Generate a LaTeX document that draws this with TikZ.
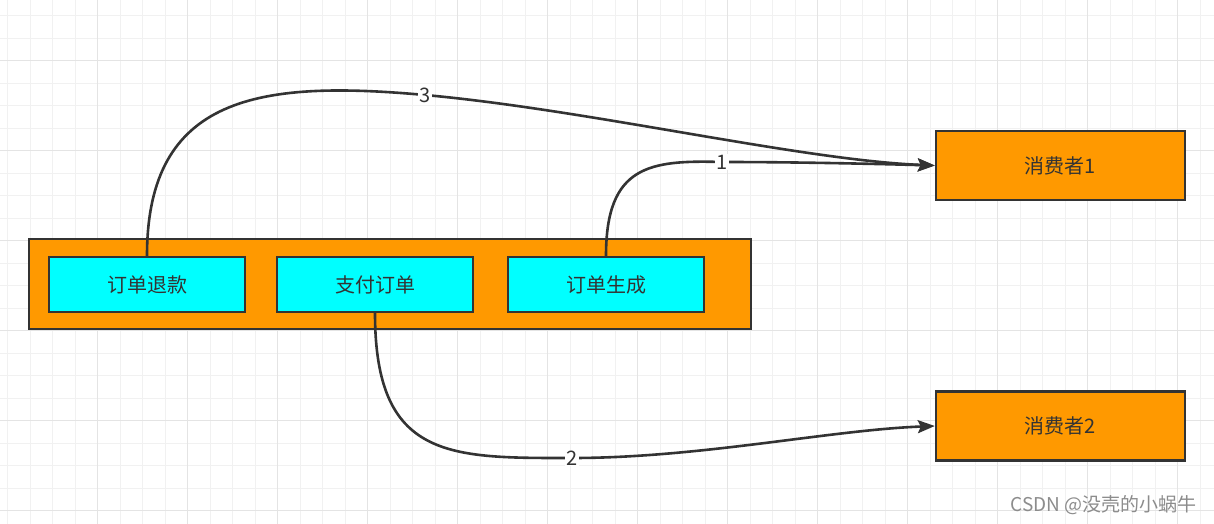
\documentclass[tikz,border=0pt]{standalone}
\usepackage{fontspec}
\setmainfont{Noto Sans CJK SC}
\usepackage{tikz}
\usetikzlibrary{arrows.meta,calc}
\definecolor{lineclr}{RGB}{51,51,51}
\definecolor{boxorange}{RGB}{255,153,0}
\definecolor{boxcyan}{RGB}{0,255,255}
\definecolor{gridminor}{RGB}{241,241,241}
\definecolor{gridmajor}{RGB}{228,228,228}

\begin{document}
\begin{tikzpicture}[x=1pt, y=-1pt,
  txt/.style={font=\fontsize{20}{22}\selectfont, text=lineclr},
  queuebox/.style={draw=lineclr, line width=2.4pt, fill=boxorange, minimum width=722pt, minimum height=90pt, inner sep=0pt},
  msgbox/.style={txt, draw=lineclr, line width=2.4pt, fill=boxcyan, minimum width=196pt, minimum height=55pt, inner sep=0pt},
  consbox/.style={txt, draw=lineclr, line width=2.4pt, fill=boxorange, minimum width=249pt, minimum height=69pt, inner sep=0pt},
  flow/.style={draw=lineclr, line width=2.6pt, -{Stealth[length=17pt, width=13pt, inset=3pt]}},
  numlbl/.style={txt, fill=white, inner sep=1pt},
  wmark/.style={font=\fontsize{19}{21}\selectfont, text=black!45}
]
\useasboundingbox (0,0) rectangle (1214,524);
\fill[white] (0,0) rectangle (1214,524);

% grid
\foreach \gx in {7.7,30.2,...,1214} \draw[gridminor, line width=1.2pt] (\gx,0) -- (\gx,524);
\foreach \gy in {15.7,38.2,...,524} \draw[gridminor, line width=1.2pt] (0,\gy) -- (1214,\gy);
\foreach \gx in {97.7,187.7,...,1214} \draw[gridmajor, line width=1.4pt] (\gx,0) -- (\gx,524);
\foreach \gy in {60.7,150.7,...,524} \draw[gridmajor, line width=1.4pt] (0,\gy) -- (1214,\gy);

\node[queuebox] (queue) at (390, 284) {};
\node[msgbox] (refund) at (147, 284.5) {订单退款};
\node[msgbox] (pay) at (375, 284.5) {支付订单};
\node[msgbox] (create) at (606, 284.5) {订单生成};
\node[consbox] (cons1) at (1060.5, 165.5) {消费者1};
\node[consbox] (cons2) at (1060.5, 426) {消费者2};

\coordinate (m1) at (722, 162);
\coordinate (m2) at (572, 458);
\coordinate (m3) at (425, 95);

\draw[flow] (create.north) .. controls (606, 165) and (650, 160) .. (m1)
  .. controls (800, 162) and (880, 164) .. (cons1.west);
\draw[flow] (refund.north) .. controls (147, 95) and (260, 80) .. (m3)
  .. controls (590, 110) and (800, 160) .. (cons1.west);
\draw[flow] (pay.south) .. controls (375, 460) and (450, 458) .. (m2)
  .. controls (700, 458) and (830, 430) .. (cons2.west);

\node[numlbl] (l1) at (m1) {1};
\node[numlbl] (l2) at (m2) {2};
\node[numlbl] (l3) at (m3) {3};

\node[wmark, anchor=east] (wm) at (1200, 505) {CSDN @没壳的小蜗牛};

\end{tikzpicture}
\end{document}
